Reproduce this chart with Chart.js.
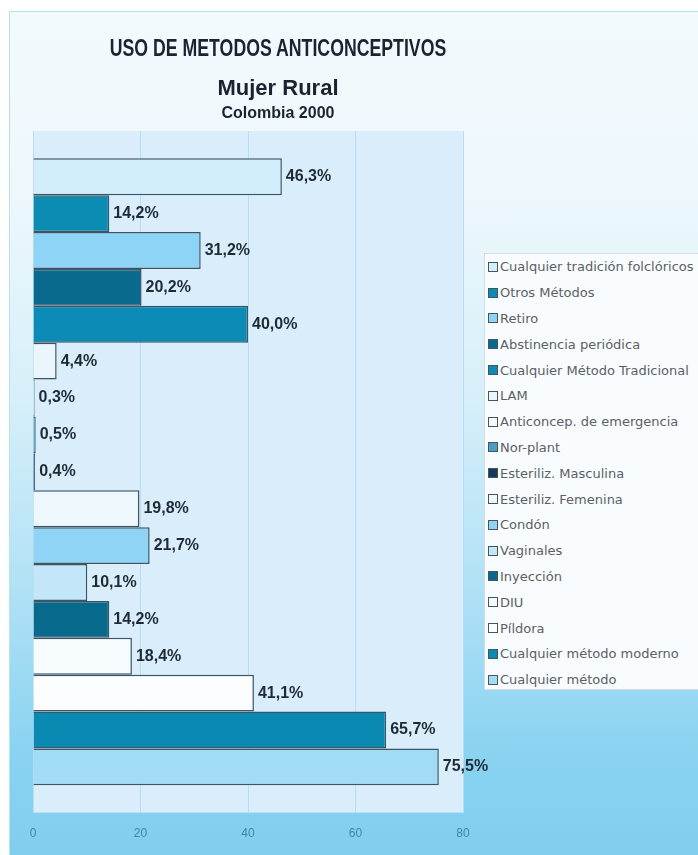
<!DOCTYPE html>
<html>
<head>
<meta charset="utf-8">
<script src="https://cdn.jsdelivr.net/npm/chart.js@4.4.0/dist/chart.umd.min.js"></script>
<style>
  html, body { margin: 0; padding: 0; background: #fff; overflow: hidden; }
  #page { position: relative; width: 698px; height: 855px; overflow: hidden; background: #fff; }
  #frame {
    position: absolute; left: 9px; top: 11px; width: 720px; height: 870px;
    border-left: 1px solid #b6e2ee; border-top: 1px solid #b6e2ee;
    background: linear-gradient(to bottom, #f3fafd 0%, #eef8fc 20%, #d6eff9 45%, #ade0f5 68%, #8ad3f1 85%, #7fccee 100%);
  }
  #chartBox { position: absolute; left: 0; top: 0; width: 556px; height: 855px; }
  .ttl {
    position: absolute; left: 0; width: 556px; text-align: center; white-space: nowrap;
    font-family: "Liberation Sans", Arial, sans-serif; font-weight: bold; color: #1b2330;
  }
  #t1 { top: 35px; font-size: 23px; line-height: 26px; transform: scaleX(0.77); }
  #t2 { top: 76px; font-size: 22px; line-height: 24px; }
  #t3 { top: 104px; font-size: 16px; line-height: 18px; }
  #legend {
    position: absolute; left: 484px; top: 253px; width: 240px; height: 437px;
    background: #f9fcfe; border: 1px solid #d3dde2; box-sizing: border-box;
  }
  .item {
    height: 25.8px; display: flex; align-items: center; white-space: nowrap;
    font-family: "DejaVu Sans", Verdana, sans-serif; font-size: 13px; color: #5a6066;
  }
  .sw { width: 8px; height: 8px; border: 1px solid #45555e; margin: 0 2px 0 3px; flex: none; }
</style>
</head>
<body>
<div id="page">
  <div id="frame"></div>
  <div id="chartBox"><canvas id="chart"></canvas></div>
  <div class="ttl" id="t1">USO DE METODOS ANTICONCEPTIVOS</div>
  <div class="ttl" id="t2">Mujer Rural</div>
  <div class="ttl" id="t3">Colombia 2000</div>
  <div id="legend"></div>
</div>
<script>
// one category, one dataset per method (top to bottom)
const categories = [""];
const seriesNames = [
  "Cualquier tradición folclóricos",
  "Otros Métodos",
  "Retiro",
  "Abstinencia periódica",
  "Cualquier Método Tradicional",
  "LAM",
  "Anticoncep. de emergencia",
  "Nor-plant",
  "Esteriliz. Masculina",
  "Esteriliz. Femenina",
  "Condón",
  "Vaginales",
  "Inyección",
  "DIU",
  "Píldora",
  "Cualquier método moderno",
  "Cualquier método"
];
const seriesValues = [46.3, 14.2, 31.2, 20.2, 40.0, 4.4, 0.3, 0.5, 0.4, 19.8, 21.7, 10.1, 14.2, 18.4, 41.1, 65.7, 75.5];
const seriesColors = [
  "#d3eefb", "#0b8db3", "#8dd4f6", "#0a6a8e", "#0b8bb5", "#eaf5fc",
  "#f4f9fc", "#4a9ec6", "#183a57", "#eef7fc", "#8fd3f5", "#c3e6f8",
  "#07698c", "#f6fbfe", "#fbfdff", "#0a8ab3", "#a1dbf6"
];
const xTicks = [0, 20, 40, 60, 80];

const fmt = (v) => v.toFixed(1).replace(".", ",") + "%";

// plot area fill
const plotBg = {
  id: "plotBg",
  beforeDraw(chart) {
    const { ctx, chartArea: a } = chart;
    ctx.save();
    ctx.fillStyle = "#d9eefa";
    ctx.fillRect(a.left, a.top, a.right - a.left, a.bottom - a.top);
    ctx.restore();
  }
};

// value labels at the end of each bar
const valueLabels = {
  id: "valueLabels",
  afterDatasetsDraw(chart) {
    const ctx = chart.ctx;
    ctx.save();
    ctx.font = "bold 16px 'Liberation Sans', Arial, sans-serif";
    ctx.fillStyle = "#1f2a34";
    ctx.textAlign = "left";
    ctx.textBaseline = "middle";
    chart.data.datasets.forEach((ds, i) => {
      chart.getDatasetMeta(i).data.forEach((bar, j) => {
        ctx.fillText(fmt(ds.data[j]), bar.x + 4, bar.y);
      });
    });
    ctx.restore();
  }
};

const chart = new Chart(document.getElementById("chart"), {
  type: "bar",
  data: {
    labels: categories,
    datasets: seriesNames.map((name, i) => ({
      label: name,
      data: [seriesValues[i]],
      backgroundColor: seriesColors[i],
      borderColor: "#3b5563",
      borderWidth: 1.5,
      barPercentage: 1,
      categoryPercentage: 0.92
    }))
  },
  options: {
    indexAxis: "y",
    responsive: true,
    maintainAspectRatio: false,
    animation: false,
    layout: { padding: { left: 33, right: 93, top: 131, bottom: 0 } },
    scales: {
      x: {
        min: 0,
        max: 80,
        afterBuildTicks: (axis) => { axis.ticks = xTicks.map((v) => ({ value: v })); },
        ticks: {
          color: "#3f83b0",
          font: { family: "'Liberation Sans', Arial, sans-serif", size: 12 },
          padding: 14
        },
        grid: { color: "#bcdcef", drawTicks: false },
        border: { display: false }
      },
      y: { display: false }
    },
    plugins: {
      legend: { display: false },
      title: { display: false },
      tooltip: { enabled: false }
    }
  },
  plugins: [plotBg, valueLabels]
});

// html legend, same order as the datasets
const legendBox = document.getElementById("legend");
chart.options.plugins.legend.labels.generateLabels(chart).forEach((item) => {
  const row = document.createElement("div");
  row.className = "item";
  const sw = document.createElement("span");
  sw.className = "sw";
  sw.style.background = item.fillStyle;
  row.appendChild(sw);
  row.appendChild(document.createTextNode(item.text));
  legendBox.appendChild(row);
});
</script>
</body>
</html>
